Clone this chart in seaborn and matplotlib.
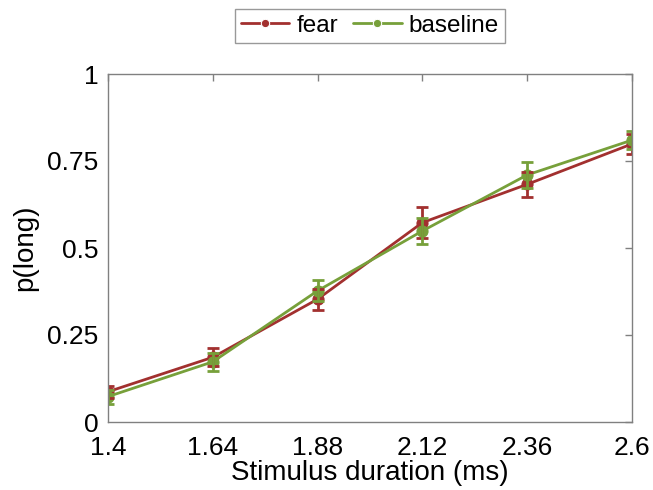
import matplotlib
matplotlib.use("Agg")
import matplotlib.pyplot as plt
import numpy as np
import pandas as pd
import seaborn as sns

durations = [1.4, 1.64, 1.88, 2.12, 2.36, 2.6]
fear_mean = [0.087, 0.186, 0.353, 0.573, 0.683, 0.799]
fear_err = [0.017, 0.026, 0.030, 0.044, 0.036, 0.030]
baseline_mean = [0.073, 0.173, 0.377, 0.549, 0.710, 0.810]
baseline_err = [0.020, 0.026, 0.030, 0.038, 0.038, 0.025]
conditions = ["fear", "baseline"]
colors = {"fear": "#A2302F", "baseline": "#77A03A"}

df = pd.concat([
    pd.DataFrame({"duration": durations, "p": fear_mean, "err": fear_err, "condition": "fear"}),
    pd.DataFrame({"duration": durations, "p": baseline_mean, "err": baseline_err, "condition": "baseline"}),
])

sns.set_style("white")
plt.rcParams["font.family"] = ["Liberation Sans", "DejaVu Sans"]
plt.rcParams["text.color"] = "black"
plt.rcParams["axes.labelcolor"] = "black"

fig = plt.figure(figsize=(6.53, 4.9), dpi=100)
ax = fig.add_axes([108 / 653, 1 - 422 / 490, 524 / 653, 348 / 490])

sns.lineplot(
    data=df, x="duration", y="p", hue="condition", hue_order=conditions,
    palette=colors, marker="o", markersize=8, linewidth=2,
    errorbar=None, ax=ax,
)
for line, cond in zip(ax.lines, conditions):
    line.set_markeredgecolor(colors[cond])
    line.set_markerfacecolor(colors[cond])
for cond in conditions:
    sub = df[df["condition"] == cond]
    ax.errorbar(sub["duration"], sub["p"], yerr=sub["err"], fmt="none",
                ecolor=colors[cond], elinewidth=2, capsize=4, capthick=2)

ax.set_xlim(1.4, 2.6)
ax.set_ylim(0, 1)
ax.set_xticks(durations)
ax.set_xticklabels(["1.4", "1.64", "1.88", "2.12", "2.36", "2.6"])
ax.set_yticks([0, 0.25, 0.5, 0.75, 1])
ax.set_yticklabels(["0", "0.25", "0.5", "0.75", "1"])
ax.tick_params(direction="in", length=5, width=1, color="#808080",
               labelcolor="black", labelsize=19, top=True, right=True)
ax.tick_params(axis="x", pad=10)
ax.tick_params(axis="y", pad=7)
for s in ax.spines.values():
    s.set_color("#808080")
    s.set_linewidth(1)
ax.set_xlabel("Stimulus duration (ms)", fontsize=20, labelpad=0)
ax.set_ylabel("p(long)", fontsize=20, labelpad=6)

handles, labels = ax.get_legend_handles_labels()
leg = ax.legend(handles, labels, loc="lower center", bbox_to_anchor=(0.5, 1.089),
                ncol=2, fontsize=17.5, frameon=True, fancybox=False,
                edgecolor="#808080", handlelength=2.0, handletextpad=0.3,
                columnspacing=0.6, borderpad=0.25, borderaxespad=0)
leg.get_frame().set_linewidth(1)
for h in leg.legend_handles:
    h.set_markersize(6)

fig.savefig("out.png", dpi=100)
